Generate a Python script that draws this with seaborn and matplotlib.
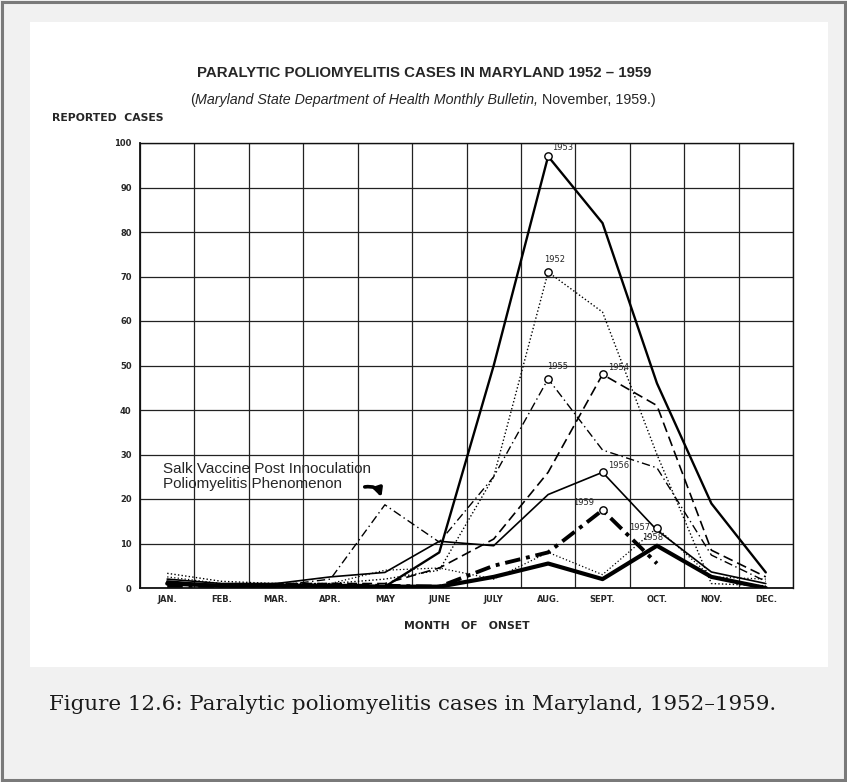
import numpy as np
import pandas as pd
import matplotlib
matplotlib.use('Agg')
import matplotlib.pyplot as plt
import seaborn as sns
from matplotlib.patches import Rectangle

# monthly reported cases
months = ['JAN.', 'FEB.', 'MAR.', 'APR.', 'MAY', 'JUNE', 'JULY', 'AUG.', 'SEPT.', 'OCT.', 'NOV.', 'DEC.']
cases_1952 = [3.3, 1.5, 1, 1, 2, 4, 25, 71, 62, 30, 1, 0.5]
cases_1953 = [1.5, 0.5, 0.5, 0.5, 0.3, 8, 50, 97, 82, 46, 19, 3.5]
cases_1954 = [1, 0.5, 1, 1, 1, 4.5, 11, 26, 48, 41, 8.5, 2.5]
cases_1955 = [1, 0.5, 0.5, 2, 18.7, 10.3, 25, 47, 31, 27, 7.4, 1.5]
cases_1956 = [2, 1, 1, 2.5, 3.5, 10.5, 9.5, 21, 26, 13, 3.6, 1]
cases_1957 = [2.5, 1, 1, 1, 4, 4.5, 2, 8, 3, 13.5, 2.5, 2]
cases_1958 = [1, 0.5, 0.5, 0.5, 0.3, 0.3, 2.5, 5.5, 2, 9.5, 2.5, 0]
cases_1959 = [0.5, 0.5, 0.5, 0.5, 0.5, 0.3, 5, 8, 17.5, 5.5, np.nan, np.nan]

years = ['1952', '1953', '1954', '1955', '1956', '1957', '1958', '1959']
series = [cases_1952, cases_1953, cases_1954, cases_1955,
          cases_1956, cases_1957, cases_1958, cases_1959]
marked_years = ['1952', '1953', '1954', '1955', '1956', '1957', '1959']

# long form table for seaborn
rows = []
for yr, vals in zip(years, series):
    for i, v in enumerate(vals):
        rows.append((yr, i, v))
df = pd.DataFrame(rows, columns=['year', 'month', 'cases']).dropna()

sans = ['Liberation Sans', 'DejaVu Sans']
sns.set_style('white')
plt.rcParams['font.family'] = ['DejaVu Sans']

W, H = 847, 782
fig = plt.figure(figsize=(W / 100, H / 100), dpi=100, facecolor='#f1f1f1')

# page frame and white panel
bg = fig.add_axes([0, 0, 1, 1])
bg.set_xlim(0, W)
bg.set_ylim(H, 0)
bg.axis('off')
bg.add_patch(Rectangle((1.5, 1.5), W - 4, H - 4, fill=False, ec='#7a7a7a', lw=2.2))
bg.add_patch(Rectangle((30, 22), 798, 645, fc='white', ec='none'))

ax = fig.add_axes([140 / W, 1 - 588 / H, (793 - 140) / W, (588 - 143) / H])
ax.set_facecolor('white')

dash_map = {'1952': (1, 1.6), '1953': '', '1954': (6, 3), '1955': (6, 2.5, 1, 2.5),
            '1956': '', '1957': (1, 1.8), '1958': '', '1959': (4, 1.5, 1, 1.5)}
size_map = {'1952': 1.0, '1953': 1.7, '1954': 1.2, '1955': 1.0,
            '1956': 1.2, '1957': 0.9, '1958': 3.0, '1959': 2.8}

sns.lineplot(data=df, x='month', y='cases', hue='year', style='year', size='year',
             palette=['black'] * len(years), dashes=dash_map, sizes=size_map,
             legend=False, ax=ax, zorder=3)

# open circles at the peaks with year labels
peaks = df[df['year'].isin(marked_years)].loc[lambda d: d.groupby('year')['cases'].idxmax()]
sns.scatterplot(data=peaks, x='month', y='cases', s=28, facecolor='white',
                edgecolor='black', linewidth=1.0, ax=ax, zorder=4, legend=False)

label_pos = {'1952': ((-3, 6), 'left'), '1953': ((3, 3), 'left'), '1954': ((4, 2), 'left'),
             '1955': ((-1, 6), 'left'), '1956': ((4, 2), 'left'), '1957': ((-5, 0), 'right'),
             '1959': ((-6, 2), 'right')}
for _, r in peaks.iterrows():
    off, ha = label_pos[r['year']]
    ax.annotate(r['year'], (r['month'], r['cases']), xytext=off, textcoords='offset points',
                ha=ha, va='bottom' if off[1] > 0 else 'center', fontsize=6, zorder=5)
r58 = df[df['year'] == '1958'].loc[lambda d: d['cases'].idxmax()]
ax.annotate('1958', (r58['month'], r58['cases']), xytext=(-3, 3), textcoords='offset points',
            ha='center', va='bottom', fontsize=6, zorder=5)

# grid on month boundaries and every ten cases
ax.set_xlim(-0.5, 11.5)
ax.set_ylim(0, 100)
ax.set_xticks(range(12))
ax.set_xticklabels(months, fontsize=6, fontweight='bold')
ax.set_xticks(np.arange(-0.5, 12, 1), minor=True)
ax.set_yticks(range(0, 101, 10))
ax.set_yticklabels([str(v) for v in range(0, 101, 10)], fontsize=6, fontweight='bold')
ax.tick_params(axis='x', which='major', length=0, pad=5)
ax.tick_params(axis='x', which='minor', length=3, width=0.8)
ax.tick_params(axis='y', length=4, width=0.8, pad=2)
ax.grid(True, which='minor', axis='x', color='#222222', lw=0.9)
ax.grid(True, which='major', axis='y', color='#222222', lw=0.9)
for s in ax.spines.values():
    s.set_color('#111111')
    s.set_linewidth(1.0)
ax.spines['left'].set_linewidth(1.3)
ax.spines['bottom'].set_linewidth(1.3)
ax.set_xlabel('')
ax.set_ylabel('')

ax.text(-0.07, 25.1, 'Salk Vaccine Post Innoculation\nPoliomyelitis Phenomenon',
        family=sans, fontsize=11, va='center', ha='left', linespacing=1.05, zorder=6)
ax.annotate('', xy=(3.95, 19.8), xytext=(3.58, 22.6),
            arrowprops=dict(arrowstyle='-|>', connectionstyle='arc3,rad=-0.5',
                            lw=2.6, color='black', mutation_scale=12), zorder=6)

# titles
bg.text(424, 73, 'PARALYTIC POLIOMYELITIS CASES IN MARYLAND 1952 \u2013 1959',
        family=sans, fontweight='bold', fontsize=10.8, ha='center', va='center')
p1 = bg.text(0, 100, '(', family=sans, fontsize=10.3, va='center')
p2 = bg.annotate('Maryland State Department of Health Monthly Bulletin,', xy=(1, 0), xycoords=p1,
                 va='bottom', family=sans, fontsize=10.3, style='italic')
p3 = bg.annotate(' November, 1959.)', xy=(1, 0), xycoords=p2, va='bottom',
                 family=sans, fontsize=10.3)
fig.canvas.draw()
r = fig.canvas.get_renderer()
total = sum(p.get_window_extent(r).width for p in (p1, p2, p3))
p1.set_x(423 - total / 2)

bg.text(52, 118, 'REPORTED  CASES', fontweight='bold', fontsize=7.8, ha='left', va='center')
bg.text(467, 626, 'MONTH   OF   ONSET', fontweight='bold', fontsize=7.8, ha='center', va='center')

bg.text(413, 705, 'Figure 12.6: Paralytic poliomyelitis cases in Maryland, 1952\u20131959.',
        family=['DejaVu Serif'], fontsize=15.4, ha='center', va='center', color='#1a1a1a')

fig.savefig('out.png', dpi=100, facecolor=fig.get_facecolor())
